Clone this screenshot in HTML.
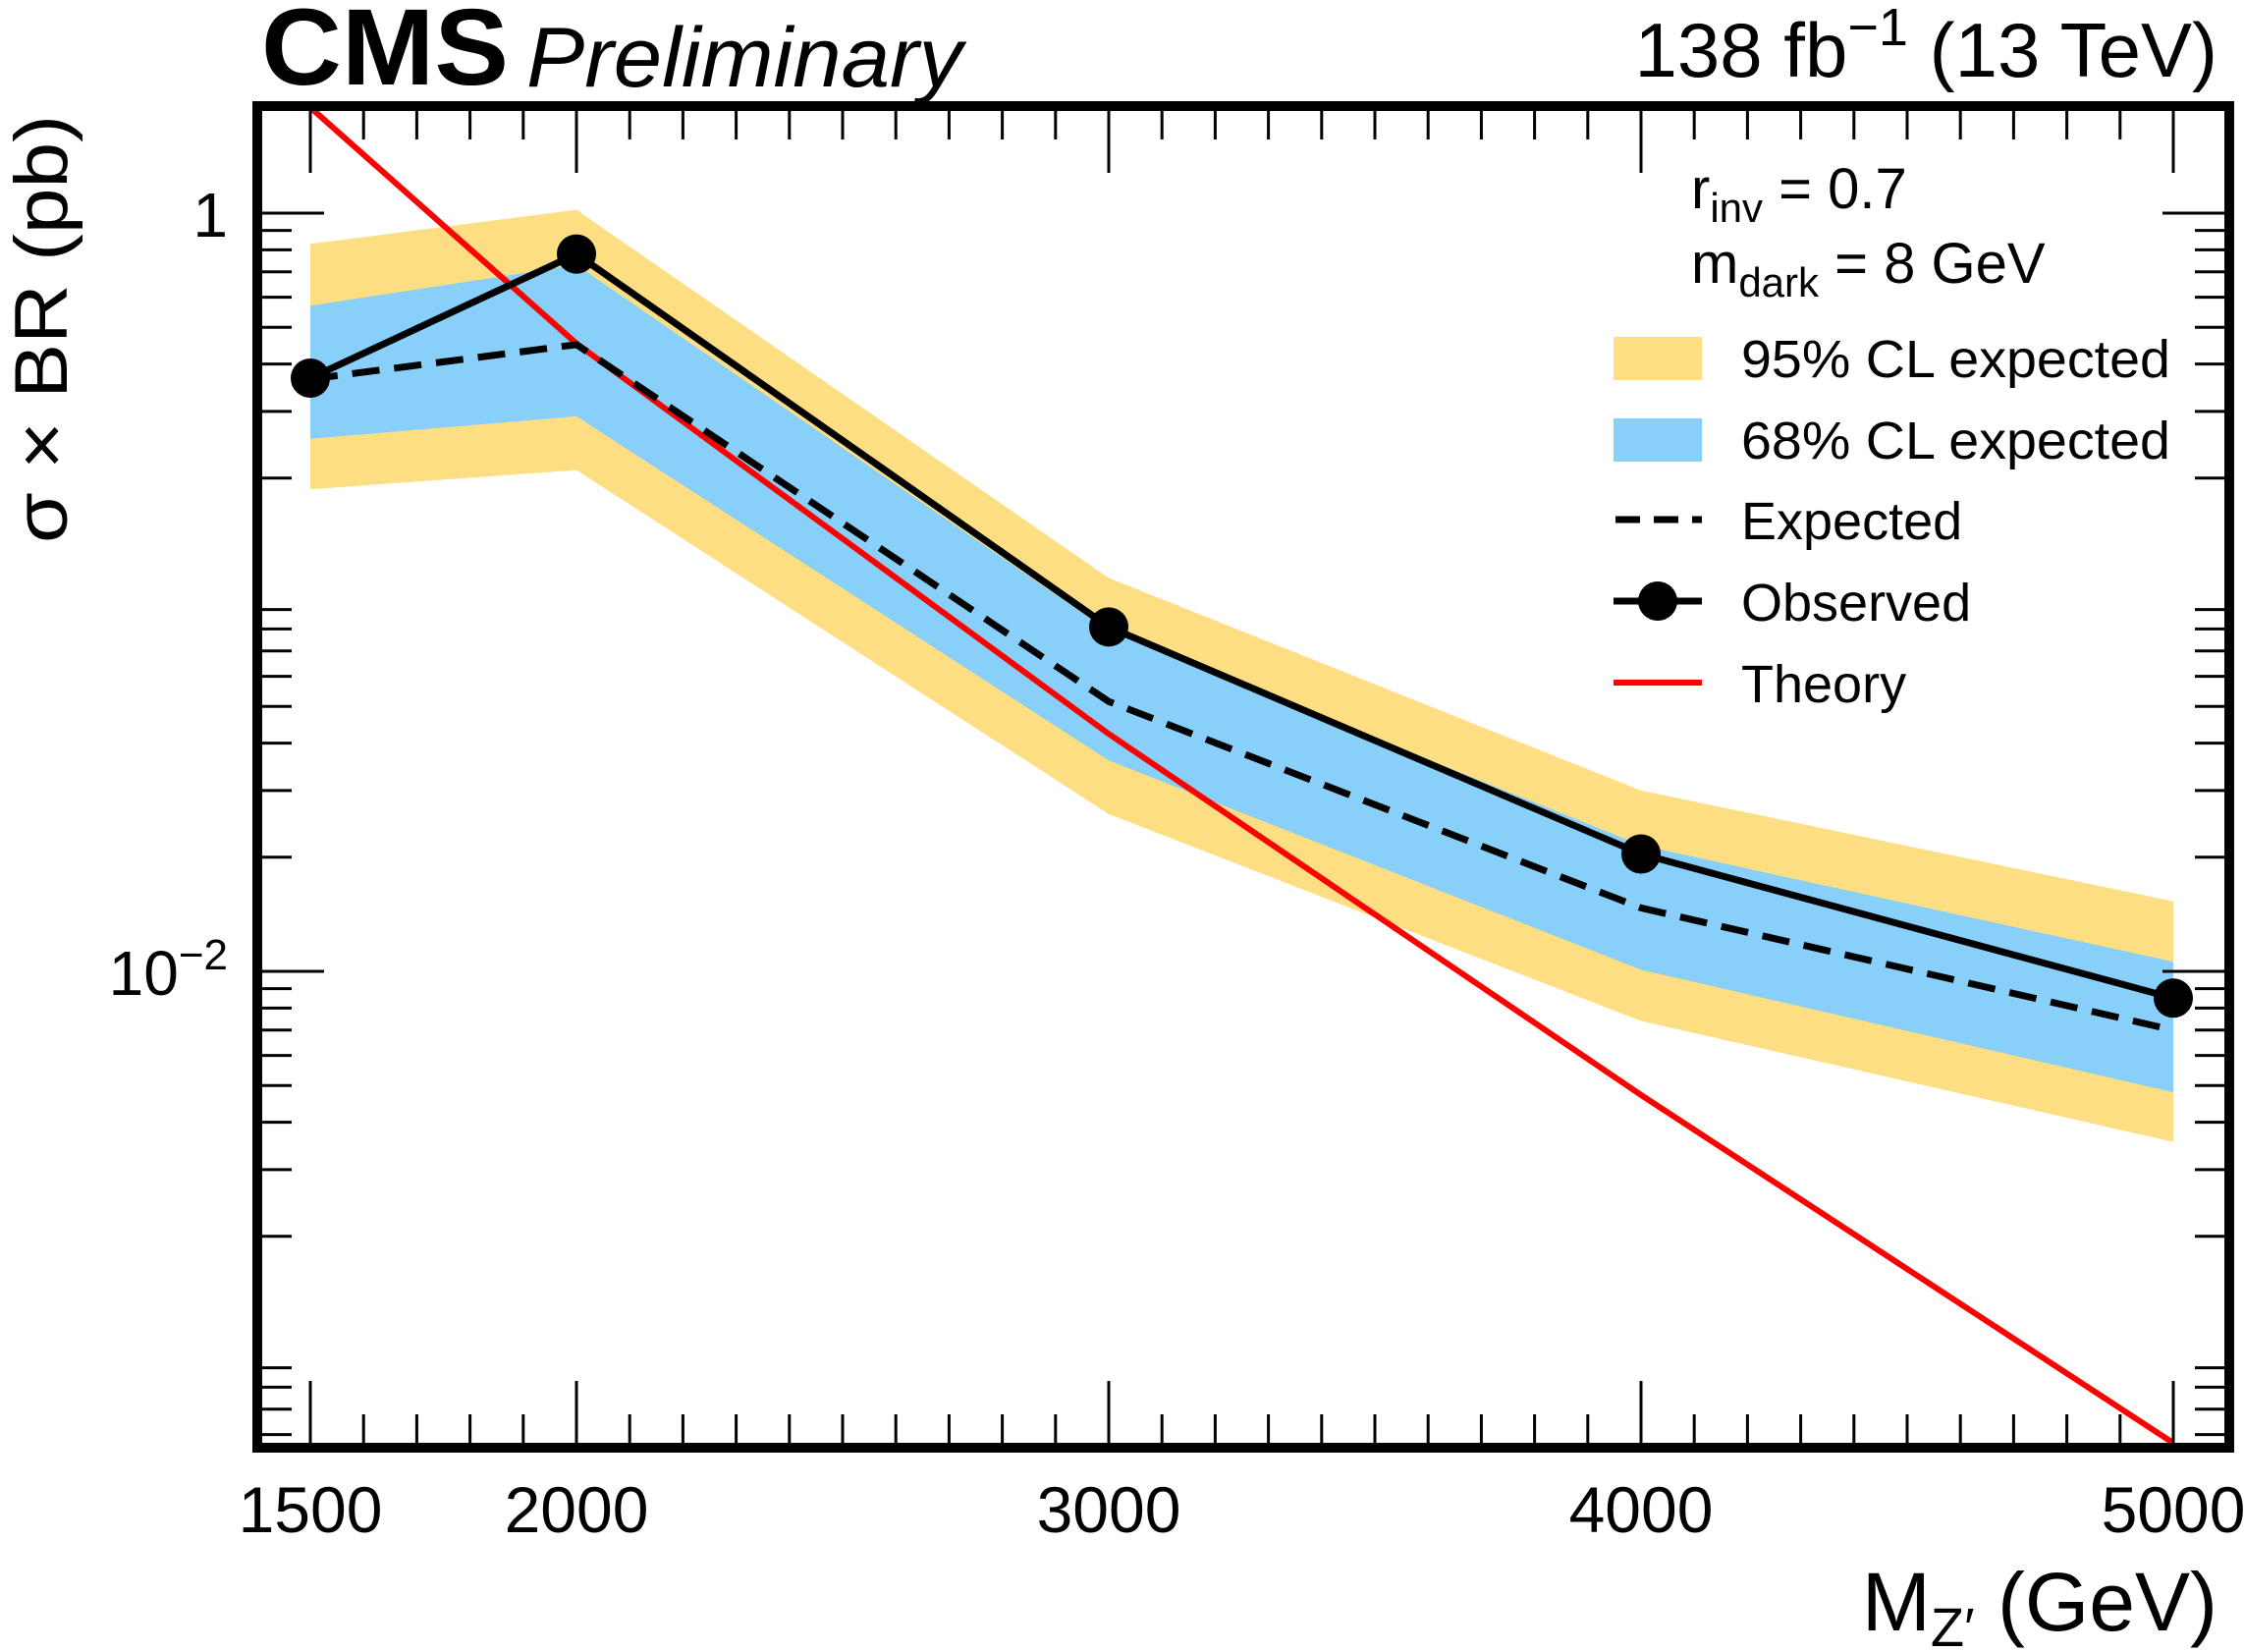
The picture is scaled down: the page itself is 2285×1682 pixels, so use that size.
<!DOCTYPE html>
<html><head><meta charset="utf-8"><style>
html,body{margin:0;padding:0;background:#fff;}
svg{display:block;font-family:"Liberation Sans",sans-serif;}
</style></head><body>
<svg id="chart" width="2285" height="1682" viewBox="0 0 2285 1682">
<defs><clipPath id="plotclip"><rect x="267" y="113" width="1998" height="1356"/></clipPath></defs>
<g id="bands" clip-path="url(#plotclip)"></g>
<g id="lines" clip-path="url(#plotclip)"></g>
<g id="ticks"></g>
<rect x="262" y="108" width="2008" height="1366" fill="none" stroke="#000" stroke-width="10"/>
<text x="266" y="86" font-size="110" font-weight="bold" textLength="252" lengthAdjust="spacingAndGlyphs">CMS</text>
<text x="536" y="88" font-size="86" font-style="italic" textLength="444" lengthAdjust="spacingAndGlyphs">Preliminary</text>
<text x="2258" y="78" font-size="78" text-anchor="end">138 fb<tspan dy="-32" font-size="54">−1</tspan><tspan dy="32"> (13 TeV)</tspan></text>
<text transform="translate(68,335) rotate(-90)" font-size="76" text-anchor="middle" textLength="436" lengthAdjust="spacingAndGlyphs">σ × BR (pb)</text>
<text x="2258" y="1660" font-size="84" text-anchor="end">M<tspan dy="16" font-size="56">Z′</tspan><tspan dy="-16"> (GeV)</tspan></text>
<g id="legend">
<text x="1722" y="212" font-size="58">r<tspan dy="14" font-size="42">inv</tspan><tspan dy="-14"> = 0.7</tspan></text>
<text x="1722" y="288" font-size="58">m<tspan dy="14" font-size="42">dark</tspan><tspan dy="-14"> = 8 GeV</tspan></text>
<rect x="1643" y="343" width="90" height="44" fill="#fdde82"/>
<text x="1773" y="384" font-size="54" textLength="437" lengthAdjust="spacingAndGlyphs">95% CL expected</text>
<rect x="1643" y="426" width="90" height="44" fill="#88cff9"/>
<text x="1773" y="467" font-size="54" textLength="437" lengthAdjust="spacingAndGlyphs">68% CL expected</text>
<line x1="1645" y1="529" x2="1733" y2="529" stroke="#000" stroke-width="7" stroke-dasharray="25,14"/>
<text x="1773" y="549" font-size="54">Expected</text>
<line x1="1643" y1="612" x2="1733" y2="612" stroke="#000" stroke-width="7"/>
<circle cx="1688" cy="612" r="20" fill="#000"/>
<text x="1773" y="632" font-size="54">Observed</text>
<line x1="1643" y1="695" x2="1733" y2="695" stroke="#f00" stroke-width="6"/>
<text x="1773" y="715" font-size="54">Theory</text>
</g>
</svg>
<script>
const masses = [1500, 2000, 3000, 4000, 5000];
const observed = [0.367, 0.78, 0.081, 0.0204, 0.0085];
const expected = [0.365, 0.45, 0.0515, 0.0147, 0.0070];
const band68Up = [0.57, 0.73, 0.079, 0.0215, 0.0106];
const band68Down = [0.254, 0.291, 0.036, 0.0101, 0.0048];
const band95Up = [0.83, 1.02, 0.109, 0.030, 0.0153];
const band95Down = [0.187, 0.21, 0.026, 0.0074, 0.00355];
const theory = [1.9, 0.453, 0.0423, 0.00472, 0.00057];
const xTickLabels = [1500, 2000, 3000, 4000, 5000];

const NS = "http://www.w3.org/2000/svg";
function xs(m){ return 316 + (m - 1500) * 0.5420; }
function ys(v){ return 217 - Math.log10(v) * 386; }
function mk(tag, attrs, parent){
  const e = document.createElementNS(NS, tag);
  for (const k in attrs) e.setAttribute(k, attrs[k]);
  parent.appendChild(e); return e;
}
const bands = document.getElementById('bands');
const lines = document.getElementById('lines');
const ticks = document.getElementById('ticks');
const svg = document.getElementById('chart');

function bandPath(up, down){
  let d = '';
  masses.forEach((m,i)=>{ d += (i? 'L':'M') + xs(m) + ',' + ys(up[i]); });
  for (let i = masses.length-1; i >= 0; i--) d += 'L' + xs(masses[i]) + ',' + ys(down[i]);
  return d + 'Z';
}
function linePts(vals){ return masses.map((m,i)=> xs(m)+','+ys(vals[i])).join(' '); }

const b95 = mk('path', {d: bandPath(band95Up, band95Down), fill:'#fdde82'}, bands);


const b68 = mk('path', {d: bandPath(band68Up, band68Down), fill:'#88cff9'}, bands);



const th = mk('polyline', {points: linePts(theory), fill:'none', stroke:'#f00', 'stroke-width':6}, lines);


const ex = mk('polyline', {points: linePts(expected), fill:'none', stroke:'#000', 'stroke-width':7, 'stroke-dasharray':'28,15'}, lines);


const ob = mk('polyline', {points: linePts(observed), fill:'none', stroke:'#000', 'stroke-width':7}, lines);


masses.forEach((m,i)=>{
  const c = mk('circle', {cx: xs(m), cy: ys(observed[i]), r: 20, fill:'#000'}, svg);
  
  
});

for (let m = 1500; m <= 5000; m += 100) {
  const major = xTickLabels.indexOf(m) >= 0;
  const L = major ? 68 : 34;
  const x = xs(m);
  const t1 = mk('line', {x1:x, y1:1474, x2:x, y2:1474-L, stroke:'#000', 'stroke-width':3}, ticks);
  
  
  const t2 = mk('line', {x1:x, y1:108, x2:x, y2:108+L, stroke:'#000', 'stroke-width':3}, ticks);
  
  
}
xTickLabels.forEach(m=>{
  const t = mk('text', {x: xs(m), y: 1560, 'font-size': 66, 'text-anchor':'middle'}, svg);
  t.textContent = m;
  
  
});
const yMajors = [1, 0.01];
yMajors.forEach(v=>{
  const y = ys(v);
  const a = mk('line', {x1:262, y1:y, x2:330, y2:y, stroke:'#000', 'stroke-width':3}, ticks);
  
  
  const b = mk('line', {x1:2270, y1:y, x2:2202, y2:y, stroke:'#000', 'stroke-width':3}, ticks);
  
  
});
[1, 0.1, 0.01, 0.001, 0.0001].forEach(dec=>{
  for (let k = 2; k <= 9; k++) {
    const val = k * dec / 10;
    const y = ys(val);
    if (y < 113 || y > 1469) continue;
    const a = mk('line', {x1:262, y1:y, x2:297, y2:y, stroke:'#000', 'stroke-width':3}, ticks);
    
    
    const b = mk('line', {x1:2270, y1:y, x2:2235, y2:y, stroke:'#000', 'stroke-width':3}, ticks);
    
    
  }
});
const l1 = mk('text', {x: 232, y: ys(1)+24, 'font-size': 64, 'text-anchor':'end'}, svg);
l1.textContent = '1';


const l2 = mk('text', {x: 232, y: ys(0.01)+24, 'font-size': 64, 'text-anchor':'end'}, svg);
l2.innerHTML = '10<tspan dy="-26" font-size="44">−2</tspan>';


</script>
</body></html>
